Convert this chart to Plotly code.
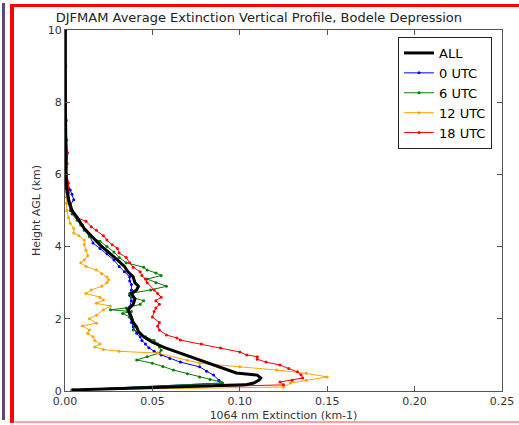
import plotly.graph_objects as go

# ---- data (height km, extinction km-1) ----
h_all = [0.03, 0.17, 0.22, 0.3, 0.36, 0.44, 0.5, 0.6, 0.7, 0.77, 0.9, 1.05, 1.2, 1.35, 1.5, 1.65, 1.77,
         1.9, 2.05, 2.25, 2.4, 2.55, 2.7, 2.8, 2.9, 3.0, 3.16, 3.3, 3.45, 3.63, 3.8, 4.05, 4.3, 4.5, 4.8,
         5.0, 5.3, 5.6, 6.0, 7.0, 8.0, 9.0, 10.0]
x_all = [0.004, 0.103, 0.108, 0.111, 0.112, 0.110, 0.098, 0.092, 0.086, 0.083, 0.074, 0.066, 0.057, 0.050,
         0.045, 0.042, 0.041, 0.039, 0.038, 0.036, 0.039, 0.040, 0.038, 0.041, 0.042, 0.040, 0.039, 0.036,
         0.034, 0.030, 0.026, 0.020, 0.015, 0.011, 0.007, 0.004, 0.002, 0.001, 0.0006, 0.0003, 0.0002,
         0.0002, 0.0002]

h_00 = [0.03, 0.22, 0.3, 0.44, 0.55, 0.67, 0.8, 0.9, 1.0, 1.1, 1.2, 1.3, 1.4, 1.5, 1.6, 1.77, 1.9, 2.05,
        2.2, 2.33, 2.5, 2.65, 2.8, 2.95, 3.05, 3.16, 3.3, 3.45, 3.63, 3.8, 3.95, 4.1, 4.3, 4.45, 4.6, 4.8,
        5.0, 5.15, 5.3, 5.45, 5.57, 5.8, 6.2, 7, 8, 9, 10]
x_00 = [0.004, 0.090, 0.088, 0.085, 0.081, 0.077, 0.066, 0.060, 0.055, 0.051, 0.048, 0.046, 0.044, 0.043,
        0.041, 0.039, 0.038, 0.037, 0.036, 0.037, 0.038, 0.037, 0.038, 0.038, 0.037, 0.037, 0.034, 0.031,
        0.028, 0.024, 0.020, 0.016, 0.014, 0.012, 0.010, 0.007, 0.004, 0.003, 0.005, 0.004, 0.003, 0.001,
        0.0005, 0.0003, 0.0002, 0.0002, 0.0002]

h_06 = [0.03, 0.22, 0.25, 0.32, 0.39, 0.48, 0.58, 0.68, 0.77, 0.86, 0.95, 1.05, 1.13, 1.22, 1.3, 1.4, 1.5,
        1.6, 1.69, 1.8, 1.9, 2.05, 2.15, 2.2, 2.25, 2.3, 2.4, 2.5, 2.6, 2.7, 2.8, 2.9, 3.0, 3.1, 3.2, 3.27,
        3.35, 3.43, 3.55, 3.7, 3.85, 4.0, 4.15, 4.27, 4.45, 4.6, 4.73, 4.9, 5.0, 5.2, 5.37, 5.6, 6.0, 7, 8,
        9, 10]
x_06 = [0.004, 0.090, 0.089, 0.083, 0.077, 0.070, 0.062, 0.056, 0.050, 0.041, 0.047, 0.054, 0.055, 0.054,
        0.053, 0.051, 0.046, 0.043, 0.039, 0.040, 0.039, 0.037, 0.033, 0.038, 0.026, 0.035, 0.043, 0.045,
        0.038, 0.037, 0.049, 0.058, 0.052, 0.047, 0.055, 0.052, 0.047, 0.045, 0.035, 0.031, 0.028, 0.024,
        0.020, 0.014, 0.011, 0.009, 0.007, 0.004, 0.003, 0.002, 0.001, 0.0008, 0.0005, 0.0003, 0.0002,
        0.0002, 0.0002]

h_12 = [0.03, 0.11, 0.22, 0.3, 0.39, 0.49, 0.58, 0.67, 0.77, 0.85, 1.05, 1.1, 1.15, 1.22, 1.3, 1.4, 1.5,
        1.6, 1.69, 1.8, 1.88, 2.0, 2.1, 2.25, 2.35, 2.43, 2.52, 2.6, 2.7, 2.8, 2.9, 3.0, 3.08, 3.16, 3.25,
        3.35, 3.45, 3.55, 3.63, 3.75, 3.9, 4.05, 4.18, 4.3, 4.38, 4.5, 4.65, 4.8, 5.0, 5.2, 5.5, 6, 7, 8,
        9, 10]
x_12 = [0.005, 0.125, 0.129, 0.138, 0.150, 0.138, 0.121, 0.100, 0.077, 0.070, 0.053, 0.031, 0.022, 0.017,
        0.020, 0.017, 0.016, 0.013, 0.014, 0.010, 0.018, 0.014, 0.018, 0.022, 0.026, 0.018, 0.022, 0.020,
        0.012, 0.015, 0.021, 0.024, 0.025, 0.024, 0.021, 0.018, 0.012, 0.009, 0.011, 0.013, 0.012, 0.011,
        0.011, 0.008, 0.005, 0.005, 0.003, 0.002, 0.001, 0.0008, 0.0005, 0.0003, 0.0002, 0.0002, 0.0002,
        0.0002]

h_18 = [0.03, 0.17, 0.25, 0.3, 0.36, 0.45, 0.53, 0.62, 0.72, 0.8, 0.88, 0.95, 1.0, 1.08, 1.19, 1.3, 1.41,
        1.47, 1.55, 1.69, 1.8, 1.9, 2.05, 2.2, 2.3, 2.4, 2.5, 2.6, 2.7, 2.8, 3.0, 3.1, 3.2, 3.3, 3.43, 3.55,
        3.7, 3.82, 3.95, 4.05, 4.18, 4.3, 4.45, 4.55, 4.7, 4.8, 5.0, 5.2, 5.5, 5.76, 6.0, 6.3, 6.6, 6.95,
        7.5, 8, 9, 10]
x_18 = [0.005, 0.125, 0.123, 0.130, 0.136, 0.135, 0.133, 0.128, 0.123, 0.115, 0.110, 0.110, 0.104, 0.100,
        0.089, 0.078, 0.066, 0.064, 0.058, 0.054, 0.053, 0.054, 0.050, 0.051, 0.052, 0.054, 0.052, 0.055,
        0.053, 0.051, 0.047, 0.046, 0.044, 0.043, 0.039, 0.037, 0.035, 0.031, 0.030, 0.027, 0.024, 0.022,
        0.018, 0.015, 0.012, 0.007, 0.004, 0.003, 0.002, 0.002, 0.001, 0.0012, 0.0015, 0.001, 0.0008,
        0.0006, 0.0005, 0.0005]

x_ticks = [0.0, 0.05, 0.10, 0.15, 0.20, 0.25]
y_ticks = [0, 2, 4, 6, 8, 10]

W, H = 519, 425
L, R, T, B = 65, 17, 30, 34
PW, PH = W - L - R, H - T - B

def px(x):
    return (x - L) / PW

def py(y):
    return 1 - (y - T) / PH

fig = go.Figure()
series = [
    ("0 UTC", h_00, x_00, "#0000ff"),
    ("6 UTC", h_06, x_06, "#008000"),
    ("12 UTC", h_12, x_12, "#ffa500"),
    ("18 UTC", h_18, x_18, "#ff0000"),
]
for i, (name, h, x, c) in enumerate(series):
    fig.add_trace(go.Scatter(x=x, y=h, mode="lines+markers", name=name, legendrank=2 + i,
                             line=dict(color=c, width=1), marker=dict(color=c, size=3)))
fig.add_trace(go.Scatter(x=x_all, y=h_all, mode="lines", name="ALL", legendrank=1,
                         line=dict(color="black", width=3)))

axis_common = dict(showgrid=False, zeroline=False, showline=True, linecolor="#555", linewidth=1,
                   mirror="ticks", ticks="inside", ticklen=5, tickcolor="#555", automargin=False,
                   tickfont=dict(family="DejaVu Sans", size=11, color="#333"))
fig.update_xaxes(range=[0, 0.25], tickvals=x_ticks, tickformat=".2f",
                 title=dict(text="1064 nm Extinction (km-1)", font=dict(family="DejaVu Sans", size=11, color="#333"),
                            standoff=4), **axis_common)
fig.update_yaxes(range=[0, 10], tickvals=y_ticks,
                 title=dict(text="Height AGL (km)", font=dict(family="DejaVu Sans", size=11, color="#333"),
                            standoff=4), **axis_common)

shapes = [
    dict(type="line", xref="paper", yref="paper", x0=px(3.5), x1=px(3.5), y0=py(3), y1=py(420),
         line=dict(color="#5b4a78", width=3)),
    dict(type="line", xref="paper", yref="paper", x0=px(12), x1=px(12), y0=py(4), y1=py(423),
         line=dict(color="#ff0000", width=4)),
    dict(type="line", xref="paper", yref="paper", x0=px(10), x1=px(519), y0=py(5.5), y1=py(5.5),
         line=dict(color="#ff0000", width=3)),
    dict(type="line", xref="paper", yref="paper", x0=px(12), x1=px(519), y0=py(422), y1=py(422),
         line=dict(color="#ff4040", width=1)),
]

fig.update_layout(
    width=W, height=H, margin=dict(l=L, r=R, t=T, b=B, autoexpand=False),
    paper_bgcolor="white", plot_bgcolor="white",
    font=dict(family="DejaVu Sans", color="#222"),
    title=dict(text="DJFMAM Average Extinction Vertical Profile, Bodele Depression",
               font=dict(family="DejaVu Sans", size=13, color="#222"),
               x=px(283), xanchor="center", y=1 - 17 / H, yanchor="middle"),
    showlegend=True,
    legend=dict(x=px(492), xanchor="right", y=py(37), yanchor="top",
                bordercolor="#222", borderwidth=1, bgcolor="white",
                font=dict(family="DejaVu Sans", size=13, color="black"),
                traceorder="normal"),
    shapes=shapes,
    hovermode=False,
)

fig.write_html("out.html", config={"displayModeBar": False, "staticPlot": True},
               post_script="document.body.style.margin='0';document.body.style.padding='0';"
                           "document.body.style.overflow='hidden';")
